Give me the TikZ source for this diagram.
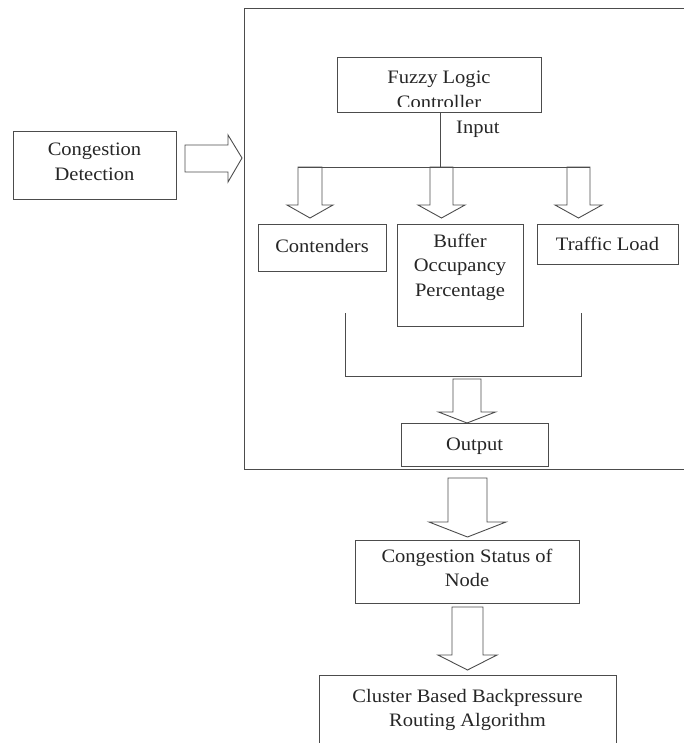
\documentclass[tikz,border=0pt]{standalone}
\usepackage{fontspec}
\setmainfont{Liberation Serif}[FakeStretch=1.08]
\begin{document}
\begin{tikzpicture}[x=1pt,y=-1pt,
  line/.style={draw=black!70, line width=0.9pt},
  box/.style={line, rectangle, inner sep=0pt, fill=white},
  txt/.style={text=black!85, align=center, inner sep=0pt, font=\fontsize{19}{24.5}\selectfont},
  blk/.style={line, line join=miter}]
\useasboundingbox (0,0) rectangle (683,743);
\newcommand\vblock[6]{%
  \draw[blk] ({#1-#5},#2) -- ({#1-#5},#3) -- ({#1-#6},#3) -- (#1,#4) -- ({#1+#6},#3) -- ({#1+#5},#3) -- ({#1+#5},#2) -- cycle;}
% outer frame (open on the right)
\draw[line] (684,8) -- (244,8) -- (244,469) -- (684,469);
% Congestion detection
\node[box, minimum width=163pt, minimum height=68pt] (cd) at (94.5,165) {};
\node[txt] (cdt) at (94.5,162) {Congestion\\Detection};
\draw[blk] (185,145) -- (228,145) -- (228,135) -- (242,158) -- (228,182) -- (228,172) -- (185,172) -- cycle;
% Fuzzy logic controller
\node[box, minimum width=204pt, minimum height=55pt] (flc) at (439,84.5) {};
\begin{scope}
  \clip (338,58) rectangle (540,107);
  \node[txt] (flct) at (439,90) {Fuzzy Logic\\Controller};
\end{scope}
\coordinate (in) at (440,167);
\draw[line] (flc.south -| in) -- (in);
\node[txt, anchor=west] (inl) at (456,129) {Input};
\draw[line] (298,167) -- (590,167);
\vblock{310}{167}{205}{218}{12}{23}
\vblock{441.5}{167}{205}{218}{11.5}{23.5}
\vblock{578.5}{167}{205}{218}{11.5}{23.5}
% three inputs
\node[box, minimum width=128pt, minimum height=47pt] (con) at (322,247.5) {};
\node[txt] at (322,246) {Contenders};
\node[box, minimum width=126pt, minimum height=102pt] (buf) at (460,275) {};
\node[txt] at (460,267) {Buffer\\Occupancy\\Percentage};
\node[box, minimum width=141pt, minimum height=40pt] (tl) at (607.5,244) {};
\node[txt] at (607.5,244) {Traffic Load};
% bracket
\coordinate (bl) at (345,313);
\coordinate (br) at (581,313);
\draw[line] (bl) -- (345,376) -- (581,376) -- (br);
\vblock{467}{379}{412}{423}{14}{28.5}
% output
\node[box, minimum width=147pt, minimum height=43pt] (out) at (474.5,444.5) {};
\node[txt] at (474.5,446) {Output};
\vblock{467.5}{478}{522}{537}{19.5}{38.5}
% congestion status
\node[box, minimum width=224pt, minimum height=63pt] (cs) at (467,571.5) {};
\node[txt] at (467,568) {Congestion Status of\\Node};
\vblock{467.5}{607}{655}{670}{15.5}{29.5}
% cluster based
\draw[line] (319,745) -- (319,675) -- (616,675) -- (616,745);
\node[txt] (cb) at (467.5,710) {Cluster Based Backpressure\\Routing Algorithm};
\end{tikzpicture}
\end{document}
